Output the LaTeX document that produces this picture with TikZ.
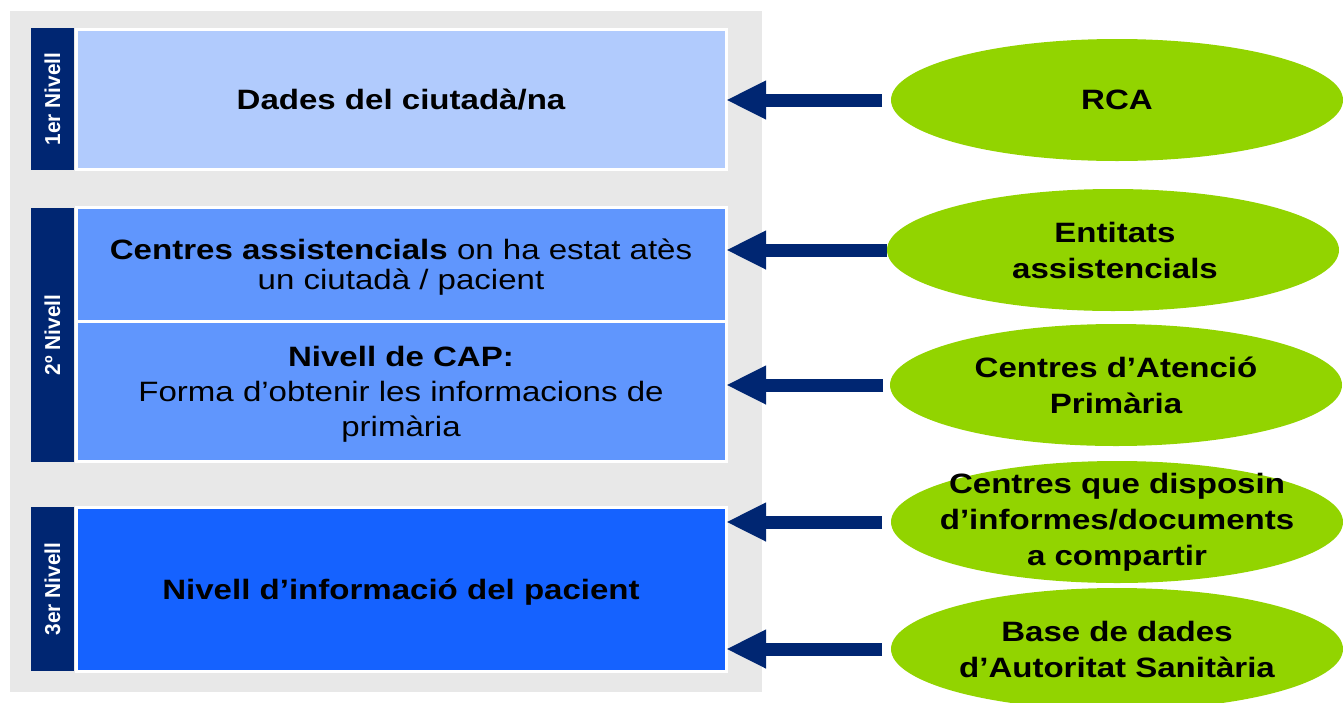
\documentclass[tikz,border=0pt]{standalone}
\usepackage{fontspec}
\setmainfont{Liberation Sans}
\usetikzlibrary{shapes.geometric,arrows.meta}
\definecolor{navy}{HTML}{002672}
\definecolor{lvA}{HTML}{B1CBFD}
\definecolor{lvB}{HTML}{6096FD}
\definecolor{lvC}{HTML}{1562FF}
\definecolor{lgreen}{HTML}{92D400}
\definecolor{bggrey}{HTML}{E8E8E8}
\newcommand{\sx}[1]{\scalebox{1.18}[1]{#1}}
\tikzset{
  lvlabel/.style={fill=navy, text=white, minimum height=43pt, inner sep=0pt, outer sep=0pt,
    font=\bfseries\fontsize{20}{20}\selectfont},
  lvbox/.style={draw=white, line width=3pt, minimum width=650pt, inner sep=0pt, outer sep=0pt},
  boxtext/.style={align=center, inner sep=0pt, font=\fontsize{28}{35}\selectfont},
  src/.style={ellipse, fill=lgreen, minimum width=452pt, minimum height=122pt, inner sep=0pt, outer sep=0pt},
  srctext/.style={align=center, inner sep=0pt, font=\bfseries\fontsize{28}{36}\selectfont},
  arr/.style={draw=navy, line width=13pt, -{Triangle[length=40pt,width=36pt]}, shorten <=9pt}
}
\begin{document}
\begin{tikzpicture}[x=1pt,y=-1pt]
\useasboundingbox (0,0) rectangle (1343,702);
\fill[bggrey] (10,11) rectangle (762,692);

% level 1
\node[lvlabel, minimum width=142pt, rotate=90] (l1) at (52.5,99) {\scalebox{1.04}[1.08]{1er Nivell}};
\node[lvbox, fill=lvA, minimum height=140pt] (b1) at (401,99) {};
\node[boxtext] (t1) at (401,100) {\sx{\bfseries Dades del ciutadà/na}};

% level 2
\node[lvlabel, minimum width=254pt, rotate=90] (l2) at (52.5,335) {\scalebox{1.04}[1.08]{2º Nivell}};
\node[lvbox, fill=lvB, minimum height=114pt] (b2a) at (401,264) {};
\node[lvbox, fill=lvB, minimum height=140pt] (b2b) at (401,391) {};
\node[boxtext, font=\fontsize{28}{30}\selectfont] (t2a) at (401,267) {\sx{\textbf{Centres assistencials} on ha estat atès}\\ \sx{un ciutadà / pacient}};
\node[boxtext] (t2b) at (401,394) {\sx{\bfseries Nivell de CAP:}\\ \sx{Forma d’obtenir les informacions de}\\ \sx{primària}};

% level 3
\node[lvlabel, minimum width=164pt, rotate=90] (l3) at (52.5,589) {\scalebox{1.04}[1.08]{3er Nivell}};
\node[lvbox, fill=lvC, minimum height=164pt] (b3) at (401,589) {};
\node[boxtext] (t3) at (401,592) {\sx{\bfseries Nivell d’informació del pacient}};

% sources
\node[src] (e1) at (1117,100) {};
\node[srctext] (e1t) at (e1) {\sx{RCA}};
\node[src] (e2) at (1113,250) {};
\node[srctext] (e2t) at ([xshift=2pt]e2) {\sx{Entitats}\\ \sx{assistencials}};
\node[src] (e3) at (1116,385) {};
\node[srctext] (e3t) at (e3) {\sx{Centres d’Atenció}\\ \sx{Primària}};
\node[src] (e4) at (1117,522) {};
\node[srctext] (e4t) at (e4) {\sx{Centres que disposin}\\ \sx{d’informes/documents}\\ \sx{a compartir}};
\node[src] (e5) at (1117,649) {};
\node[srctext] (e5t) at (e5) {\sx{Base de dades}\\ \sx{d’Autoritat Sanitària}};

% connectors
\draw[arr] (e1.west) -- (e1.west -| b1.east);
\draw[arr, shorten <=0pt] (e2.west) -- (e2.west -| b2a.east);
\draw[arr, shorten <=7pt] (e3.west) -- (e3.west -| b2b.east);
\draw[arr] (e4.west) -- (e4.west -| b3.east);
\draw[arr] (e5.west) -- (e5.west -| b3.east);
\end{tikzpicture}
\end{document}
